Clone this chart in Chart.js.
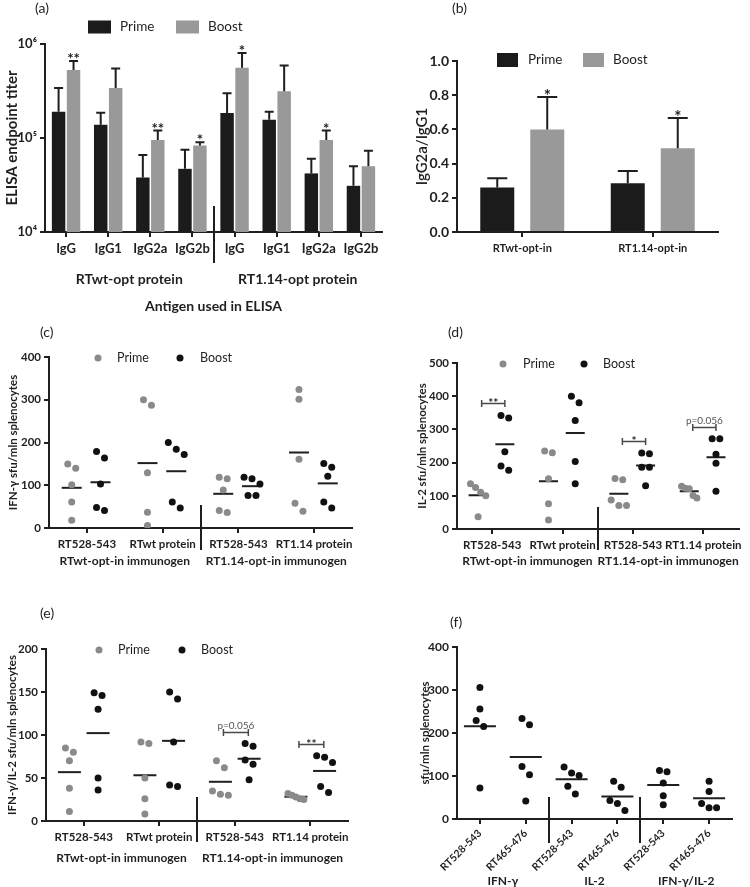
<!DOCTYPE html>
<html>
<head>
<meta charset="utf-8">
<script src="https://cdn.jsdelivr.net/npm/chart.js@4"></script>
<style>
  body { margin: 0; background: #fff; }
  #fig { position: relative; width: 750px; height: 887px; overflow: hidden; }
  canvas { position: absolute; }
</style>
</head>
<body>
<div id="fig">
  <canvas id="ca" width="392" height="318" style="left:0;top:0"></canvas>
  <canvas id="cb" width="345" height="270" style="left:380px;top:0"></canvas>
  <canvas id="cc" width="365" height="265" style="left:0;top:320px"></canvas>
  <canvas id="cd" width="370" height="265" style="left:380px;top:320px"></canvas>
  <canvas id="ce" width="365" height="290" style="left:0;top:590px"></canvas>
  <canvas id="cf" width="370" height="297" style="left:380px;top:590px"></canvas>
</div>
<script>
// ---- data ----
// (a) ELISA endpoint titers (log scale), bar top and upper error bar
const aCats = ["IgG", "IgG1", "IgG2a", "IgG2b", "IgG", "IgG1", "IgG2a", "IgG2b"];
const aPrime = [190000, 138000, 38000, 47000, 185000, 156000, 42000, 31000];
const aPrimeErr = [340000, 186000, 66000, 75000, 300000, 190000, 60000, 50000];
const aBoost = [530000, 340000, 95000, 83000, 560000, 315000, 95000, 50000];
const aBoostErr = [660000, 550000, 120000, 90000, 800000, 590000, 120000, 73000];
const aStars = ["**", "", "**", "*", "*", "", "*", ""];
const aGroups = ["RTwt-opt protein", "RT1.14-opt protein"];
const aTicks = [1e4, 1e5, 1e6];
const aTickLabels = ["10\u2074", "10\u2075", "10\u2076"];

// (b) IgG2a/IgG1 ratio
const bCats = ["RTwt-opt-in", "RT1.14-opt-in"];
const bPrime = [0.26, 0.285];
const bPrimeErr = [0.315, 0.357];
const bBoost = [0.60, 0.49];
const bBoostErr = [0.79, 0.667];
const bStars = ["*", "*"];
const bTicks = [0, 0.2, 0.4, 0.6, 0.8, 1.0];

// (c)-(e) spot counts per mouse, one list per stimulus
const cdeCats = ["RT528-543", "RTwt protein", "RT528-543", "RT1.14 protein"];
const cdeGroups = ["RTwt-opt-in immunogen", "RT1.14-opt-in immunogen"];

const cPrime = [[150, 140, 101, 61, 18], [300, 287, 129, 37, 6], [115, 119, 89, 36, 41], [324, 301, 161, 58, 39]];
const cBoost = [[164, 179, 103, 41, 48], [184, 200, 172, 47, 61], [115, 119, 103, 76, 76], [142, 151, 121, 47, 61]];
const cTicks = [0, 100, 200, 300, 400];

const dPrime = [[125, 111, 136, 100, 37], [235, 230, 151, 76, 27], [152, 148, 87, 71, 71], [123, 121, 129, 93, 101]];
const dBoost = [[334, 342, 233, 177, 190], [400, 380, 327, 203, 136], [227, 229, 186, 186, 130], [272, 272, 225, 198, 114]];
const dTicks = [0, 100, 200, 300, 400, 500];
const dSig = ["**", "", "*", "p=0.056"];

const ePrime = [[85, 80, 70, 38, 11], [92, 90, 50, 26, 8], [70, 62, 35, 30, 31], [32, 30, 28, 26, 25]];
const eBoost = [[149, 146, 130, 50, 36], [142, 150, 92, 40, 42], [87, 90, 71, 66, 48], [74, 76, 68, 33, 40]];
const eTicks = [0, 50, 100, 150, 200];
const eSig = ["", "", "p=0.056", "**"];

// (f) boost only, two peptides per readout
const fCats = ["RT528-543", "RT465-476", "RT528-543", "RT465-476", "RT528-543", "RT465-476"];
const fVals = [[306, 256, 229, 215, 72], [219, 234, 122, 103, 42], [121, 107, 101, 76, 58], [74, 88, 43, 36, 20], [113, 110, 84, 54, 33], [88, 64, 36, 26, 26]];
const fGroups = ["IFN-\u03b3", "IL-2", "IFN-\u03b3/IL-2"];
const fTicks = [0, 100, 200, 300, 400];

// ---- look ----
const INK = "#1f1f1f";
const FONT = "Lato, 'Open Sans', sans-serif";
const PRIME_BAR = "#1b1b1b", BOOST_BAR = "#999999";
const PRIME_DOT = "#8a8a8a", BOOST_DOT = "#111111";
Chart.defaults.font.family = FONT;
Chart.defaults.color = INK;

// close values are set side by side, like a column scatter
function swarm(vals, thr, step) {
  const order = vals.map((v, i) => i).sort((a, b) => vals[b] - vals[a]);
  const off = vals.map(() => 0);
  let cl = [];
  const flush = () => {
    const n = cl.length;
    const sp = n > 1 ? Math.min(step, 2 * step / (n - 1)) : 0;
    cl.forEach((idx, k) => { off[idx] = (k - (n - 1) / 2) * sp; });
    cl = [];
  };
  order.forEach(i => {
    if (cl.length && vals[cl[cl.length - 1]] - vals[i] >= thr) flush();
    cl.push(i);
  });
  flush();
  return off;
}
function points(groups, shift, thr, step) {
  const out = [];
  groups.forEach((vals, c) => {
    const off = swarm(vals, thr, step);
    vals.forEach((v, i) => out.push({ x: c + shift + off[i], y: v }));
  });
  return out;
}
function means(groups, shift) {
  return groups.map((vals, c) => ({ x: c + shift, y: vals.reduce((s, v) => s + v, 0) / vals.length }));
}

// axes
function axisY(o) {
  return {
    type: o.type || "linear", min: o.min, max: o.max,
    afterBuildTicks: s => { s.ticks = o.ticks.map(v => ({ value: v })); },
    afterFit: s => { s.width = o.width; },
    border: { color: INK, width: 2 },
    grid: { drawOnChartArea: false, color: INK, lineWidth: 2, tickLength: 5 },
    ticks: { color: INK, padding: 3, font: { size: o.size, weight: "bold" }, callback: (v, i) => o.labels[i] },
    title: { display: true, text: o.title, color: INK, font: { size: o.titleSize, weight: o.titleWeight || "600" }, padding: { top: o.titlePad, bottom: 0 } }
  };
}
function axisX(cats, o) {
  const ax = {
    afterFit: s => { s.height = o.height; },
    border: { color: INK, width: 2 },
    grid: { drawOnChartArea: false, offset: false, color: INK, lineWidth: 2, tickLength: 5 },
    ticks: { color: INK, autoSkip: false, padding: o.pad, maxRotation: o.rot || 0, minRotation: o.rot || 0,
             font: { size: o.size, weight: "bold" } }
  };
  if (o.dots) {
    Object.assign(ax, { type: "linear", min: -0.5, max: cats.length - 0.5,
      afterBuildTicks: s => { s.ticks = cats.map((c, i) => ({ value: i })); } });
    ax.ticks.callback = (v, i) => cats[i];
  }
  if (o.title) {
    ax.title = { display: true, text: o.title, color: INK, font: { size: 14, weight: "bold" }, padding: { top: 0, bottom: 3 } };
  }
  return ax;
}

// error bars, stars, legend, panel letter, group labels, dividers, brackets
const extras = {
  id: "extras",
  afterDatasetsDraw(chart, args, o) {
    const ctx = chart.ctx, ys = chart.scales.y;
    ctx.save();
    ctx.strokeStyle = INK; ctx.fillStyle = INK; ctx.lineWidth = 2;
    chart.data.datasets.forEach((ds, i) => {
      if (!ds.errors) return;
      chart.getDatasetMeta(i).data.forEach((bar, j) => {
        const top = ys.getPixelForValue(ds.errors[j]);
        ctx.beginPath();
        ctx.moveTo(bar.x, bar.y); ctx.lineTo(bar.x, top);
        ctx.moveTo(bar.x - o.cap, top); ctx.lineTo(bar.x + o.cap, top);
        ctx.stroke();
        if (ds.stars && ds.stars[j]) {
          ctx.font = `bold ${o.starSize}px ${FONT}`;
          ctx.textAlign = "center"; ctx.textBaseline = "alphabetic";
          ctx.fillText(ds.stars[j], bar.x, top + o.starLift);
        }
      });
    });
    ctx.restore();
  },
  afterDraw(chart, args, o) {
    const ctx = chart.ctx, xs = chart.scales.x, ys = chart.scales.y;
    ctx.save();
    ctx.fillStyle = INK;
    ctx.font = `14px ${FONT}`; ctx.textAlign = "left"; ctx.textBaseline = "middle";
    ctx.fillText(o.letter, o.letterAt[0], o.letterAt[1]);

    (o.legendAt || []).forEach((p, k) => {
      const ds = chart.data.datasets[k];
      ctx.fillStyle = ds.backgroundColor;
      if (o.box) {
        ctx.fillRect(p[0], o.legendY - o.box[1] / 2, o.box[0], o.box[1]);
      } else {
        ctx.beginPath(); ctx.arc(p[0], o.legendY, 3.5, 0, Math.PI * 2); ctx.fill();
      }
      ctx.fillStyle = INK;
      ctx.font = `${o.legendSize}px ${FONT}`; ctx.textAlign = "left"; ctx.textBaseline = "middle";
      ctx.fillText(ds.label, p[1], o.legendY);
    });

    const n = o.groupSize;
    ctx.strokeStyle = INK; ctx.lineWidth = 2;
    for (let g = 1; g < o.groups.length; g++) {
      const xp = Math.round(xs.getPixelForValue(g * n - 0.5));
      ctx.beginPath(); ctx.moveTo(xp, ys.bottom - o.divUp); ctx.lineTo(xp, ys.bottom + o.divDown); ctx.stroke();
    }
    ctx.fillStyle = INK;
    ctx.font = `bold ${o.groupFont}px ${FONT}`; ctx.textAlign = "center"; ctx.textBaseline = "middle";
    o.groups.forEach((t, g) => {
      const xc = (xs.getPixelForValue(g * n) + xs.getPixelForValue(g * n + n - 1)) / 2;
      ctx.fillText(t, xc, o.groupY);
    });

    (o.brackets || []).forEach((lab, c) => {
      if (!lab) return;
      const top = Math.max(...o.series.map(s => Math.max(...s[c])));
      const yb = Math.round(ys.getPixelForValue(top) - 12) + 0.5;
      const x1 = xs.getPixelForValue(c - 0.15), x2 = xs.getPixelForValue(c + 0.18);
      ctx.strokeStyle = "#4a4a4a"; ctx.lineWidth = 1.5;
      ctx.beginPath();
      ctx.moveTo(x1, yb); ctx.lineTo(x2, yb);
      ctx.moveTo(x1, yb - 3.5); ctx.lineTo(x1, yb + 3.5);
      ctx.moveTo(x2, yb - 3.5); ctx.lineTo(x2, yb + 3.5);
      ctx.stroke();
      ctx.textAlign = "center"; ctx.textBaseline = "alphabetic";
      if (lab.startsWith("p")) {
        ctx.fillStyle = "#555"; ctx.font = `10px ${FONT}`;
        ctx.fillText(lab, (x1 + x2) / 2, yb - 4);
      } else {
        ctx.fillStyle = INK; ctx.font = `bold 12px ${FONT}`;
        ctx.fillText(lab, (x1 + x2) / 2, yb + 3.5);
      }
    });
    ctx.restore();
  }
};

const base = { responsive: false, animation: false, events: [] };
const quiet = { legend: { display: false }, tooltip: { enabled: false } };

// (a)
new Chart(document.getElementById("ca"), {
  type: "bar",
  data: { labels: aCats, datasets: [
    { label: "Prime", data: aPrime, errors: aPrimeErr, backgroundColor: PRIME_BAR },
    { label: "Boost", data: aBoost, errors: aBoostErr, stars: aStars, backgroundColor: BOOST_BAR }
  ]},
  options: { ...base,
    layout: { padding: { top: 44, right: 10, left: 0, bottom: 0 } },
    datasets: { bar: { categoryPercentage: 0.71, barPercentage: 0.9 } },
    scales: {
      x: axisX(aCats, { height: 86, pad: 4, size: 13, title: "Antigen used in ELISA" }),
      y: axisY({ type: "logarithmic", min: 1e4, max: 1e6, ticks: aTicks, labels: aTickLabels, width: 45, size: 13,
                 title: "ELISA endpoint titer", titleSize: 15, titleWeight: "bold", titlePad: 3 })
    },
    plugins: { ...quiet, extras: {
      cap: 4.5, starSize: 15, starLift: 3, letter: "(a)", letterAt: [35, 8],
      box: [23, 13], legendY: 27, legendAt: [[88, 120], [176, 208]], legendSize: 13.5,
      groups: aGroups, groupSize: 4, groupY: 279, groupFont: 14, divUp: 26, divDown: 31 } }
  },
  plugins: [extras]
});

// (b)
new Chart(document.getElementById("cb"), {
  type: "bar",
  data: { labels: bCats, datasets: [
    { label: "Prime", data: bPrime, errors: bPrimeErr, backgroundColor: PRIME_BAR },
    { label: "Boost", data: bBoost, errors: bBoostErr, stars: bStars, backgroundColor: BOOST_BAR }
  ]},
  options: { ...base,
    layout: { padding: { top: 61, right: 7, left: 0, bottom: 0 } },
    datasets: { bar: { categoryPercentage: 0.766, barPercentage: 0.68 } },
    scales: {
      x: axisX(bCats, { height: 38, pad: 5, size: 11 }),
      y: axisY({ min: 0, max: 1, ticks: bTicks, labels: bTicks.map(v => v.toFixed(1)), width: 77, size: 14,
                 title: "IgG2a/IgG1", titleSize: 15, titlePad: 33 })
    },
    plugins: { ...quiet, extras: {
      cap: 10, starSize: 17, starLift: 5, letter: "(b)", letterAt: [72, 8],
      box: [21, 14], legendY: 60, legendAt: [[117, 148], [203, 233]], legendSize: 13.5,
      groups: [], groupSize: 1, groupY: 0, groupFont: 12, divUp: 0, divDown: 0 } }
  },
  plugins: [extras]
});

// (c)-(f) column scatter with mean lines
function dotChart(id, o) {
  const thr = o.max * 0.05;
  const sets = o.series.map(s => ({
    label: s.label, data: points(s.vals, s.shift, thr, o.step),
    backgroundColor: s.color, borderWidth: 0, pointRadius: 3.5
  }));
  o.series.forEach(s => sets.push({
    label: s.label + " mean", data: means(s.vals, s.shift), pointStyle: "line",
    pointRadius: o.meanR, borderColor: INK, borderWidth: 2, backgroundColor: INK
  }));
  return new Chart(document.getElementById(id), {
    type: "scatter",
    data: { datasets: sets },
    options: { ...base,
      layout: { padding: o.padding },
      scales: {
        x: axisX(o.cats, { dots: true, height: o.xHeight, pad: o.xPad, size: o.xSize, rot: o.rot }),
        y: axisY({ min: 0, max: o.max, ticks: o.ticks, labels: o.ticks.map(String), width: o.yWidth, size: o.ySize,
                   title: o.title, titleSize: 11.5, titleWeight: "bold", titlePad: o.titlePad })
      },
      plugins: { ...quiet, extras: o.extras }
    },
    plugins: [extras]
  });
}

dotChart("cc", {
  cats: cdeCats, max: 400, ticks: cTicks, step: 0.105, meanR: 10,
  series: [{ label: "Prime", vals: cPrime, shift: -0.2, color: PRIME_DOT }, { label: "Boost", vals: cBoost, shift: 0.18, color: BOOST_DOT }],
  padding: { top: 37, right: 13, left: 0, bottom: 0 }, xHeight: 57, xPad: 4, xSize: 11.5, yWidth: 49, ySize: 11.5,
  title: "IFN-\u03b3 sfu/mln splenocytes", titlePad: 6,
  extras: { letter: "(c)", letterAt: [40, 12], legendY: 38, legendAt: [[98, 117], [180, 200]], legendSize: 12.5,
            groups: cdeGroups, groupSize: 2, groupY: 241, groupFont: 12, divUp: 23, divDown: 22 }
});

dotChart("cd", {
  cats: cdeCats, max: 500, ticks: dTicks, step: 0.109, meanR: 9.5,
  series: [{ label: "Prime", vals: dPrime, shift: -0.2, color: PRIME_DOT }, { label: "Boost", vals: dBoost, shift: 0.18, color: BOOST_DOT }],
  padding: { top: 43, right: 0, left: 0, bottom: 0 }, xHeight: 56, xPad: 4, xSize: 11.5, yWidth: 77, ySize: 11.5,
  title: "IL-2 sfu/mln splenocytes", titlePad: 35,
  extras: { letter: "(d)", letterAt: [68, 12], legendY: 44, legendAt: [[123, 143], [204, 223]], legendSize: 12.5,
            groups: cdeGroups, groupSize: 2, groupY: 241, groupFont: 12, divUp: 22, divDown: 21,
            brackets: dSig, series: [dPrime, dBoost] }
});

dotChart("ce", {
  cats: cdeCats, max: 200, ticks: eTicks, step: 0.105, meanR: 11.5,
  series: [{ label: "Prime", vals: ePrime, shift: -0.19, color: PRIME_DOT }, { label: "Boost", vals: eBoost, shift: 0.19, color: BOOST_DOT }],
  padding: { top: 59, right: 17, left: 0, bottom: 0 }, xHeight: 59, xPad: 4, xSize: 11.5, yWidth: 46, ySize: 11.5,
  title: "IFN-\u03b3/IL-2 sfu/mln splenocytes", titlePad: 5,
  extras: { letter: "(e)", letterAt: [40, 23], legendY: 60, legendAt: [[99, 118], [182, 201]], legendSize: 12.5,
            groups: cdeGroups, groupSize: 2, groupY: 268, groupFont: 12, divUp: 24, divDown: 21,
            brackets: eSig, series: [ePrime, eBoost] }
});

// (f)
dotChart("cf", {
  cats: fCats, max: 400, ticks: fTicks, step: 0.164, meanR: 16,
  series: [{ label: "Boost", vals: fVals, shift: 0, color: BOOST_DOT }],
  padding: { top: 57, right: 0, left: 0, bottom: 0 }, xHeight: 68, xPad: 3, xSize: 10.5, rot: 45, yWidth: 77, ySize: 12,
  title: "sfu/mln splenocytes", titlePad: 38,
  extras: { letter: "(f)", letterAt: [70, 32], groups: fGroups, groupSize: 2, groupY: 291, groupFont: 12,
            divUp: 22, divDown: 24 }
});
</script>
</body>
</html>
